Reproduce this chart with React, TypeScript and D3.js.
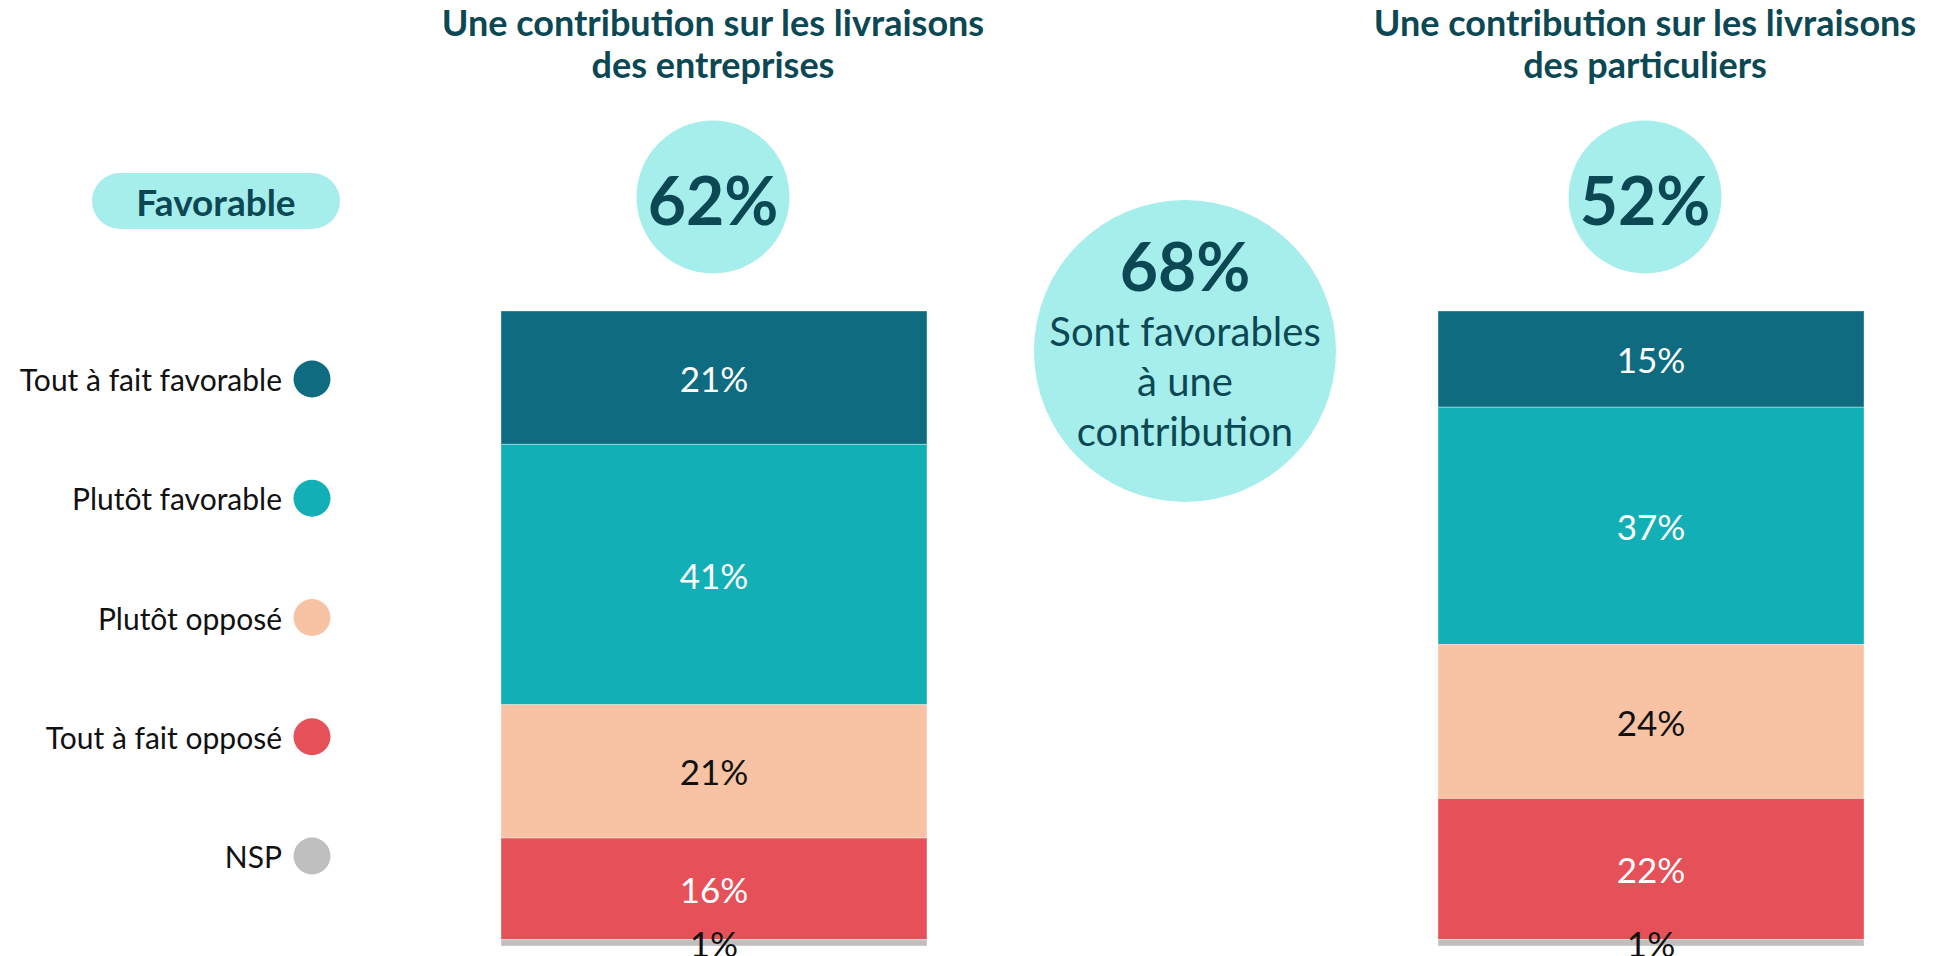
import * as d3 from 'd3'

const categories = ['Tout à fait favorable', 'Plutôt favorable', 'Plutôt opposé', 'Tout à fait opposé', 'NSP']
const colors = ['#0e6b80', '#13afb7', '#f7c3a4', '#e65058', '#bfbfbf']
const labelColors = ['#ffffff', '#ffffff', '#111111', '#ffffff', '#111111']
const groups = ['entreprises', 'particuliers']
const titles = [
  ['Une contribution sur les livraisons', 'des entreprises'],
  ['Une contribution sur les livraisons', 'des particuliers'],
]
const entreprises = [21, 41, 21, 16, 1]
const particuliers = [15, 37, 24, 22, 1]
const favorable = [62, 52]
const overall = 68
const overallText = ['Sont favorables', 'à une', 'contribution']

const W = 1934, H = 956
const FONT = 'Lato, "Open Sans", sans-serif'
const DARK = '#0b4853'
const LIGHT = '#a6eeec'

export default function App() {
  const series = [entreprises, particuliers]
  const barX = d3.scaleBand<string>().domain(groups).range([501, 1864]).paddingInner(0.5454)
  const headX = d3.scalePoint<string>().domain(groups).range([713, 1645])
  const legendY = d3.scalePoint<string>().domain(categories).range([379, 856])
  const top = 311, bottom = 946

  return (
    <div style={{ position: 'absolute', left: 0, top: 0 }}>
      <svg width={W} height={H} style={{ display: 'block', fontFamily: FONT }}>
        {/* favorable pill */}
        <rect x={92} y={173} width={248} height={56} rx={28} fill={LIGHT} />
        <text x={216} y={201} textAnchor="middle" dominantBaseline="central" fontSize={37} fontWeight={700} fill={DARK}>Favorable</text>

        {/* legend */}
        {categories.map((c, i) => (
          <g key={c}>
            <text x={282} y={legendY(c)} textAnchor="end" dominantBaseline="central" fontSize={30} fill="#111">{c}</text>
            <circle cx={312} cy={legendY(c)} r={18.5} fill={colors[i]} />
          </g>
        ))}

        {groups.map((g, gi) => {
          const vals = series[gi]
          const total = d3.sum(vals)
          const y = d3.scaleLinear().domain([0, total]).range([top, bottom])
          const cum = d3.cumsum(vals)
          const x0 = barX(g)!
          const bw = barX.bandwidth()
          const hx = headX(g)!
          return (
            <g key={g}>
              {titles[gi].map((t, li) => (
                <text key={li} x={hx} y={22 + li * 42} textAnchor="middle" dominantBaseline="central" fontSize={36} fontWeight={700} fill={DARK}>{t}</text>
              ))}
              <circle cx={hx} cy={197} r={76.5} fill={LIGHT} />
              <text x={hx} y={199} textAnchor="middle" dominantBaseline="central" fontSize={66} fontWeight={700} fill={DARK}>{favorable[gi]}%</text>
              {vals.map((v, i) => {
                const y0 = y(cum[i] - v), y1 = y(cum[i])
                return (
                  <g key={i}>
                    <rect x={x0} y={y0} width={bw} height={y1 - y0} fill={colors[i]} stroke="#ffffff" strokeOpacity={0.35} strokeWidth={1} />
                    <text x={x0 + bw / 2} y={(y0 + y1) / 2} textAnchor="middle" dominantBaseline="central" fontSize={35} fill={labelColors[i]}>{v}%</text>
                  </g>
                )
              })}
            </g>
          )
        })}

        {/* overall circle */}
        <circle cx={1185} cy={351} r={151} fill={LIGHT} />
        <text x={1185} y={265} textAnchor="middle" dominantBaseline="central" fontSize={66} fontWeight={700} fill={DARK}>{overall}%</text>
        {overallText.map((t, i) => (
          <text key={i} x={1185} y={331 + i * 50} textAnchor="middle" dominantBaseline="central" fontSize={40} fill={DARK}>{t}</text>
        ))}
      </svg>
    </div>
  )
}
